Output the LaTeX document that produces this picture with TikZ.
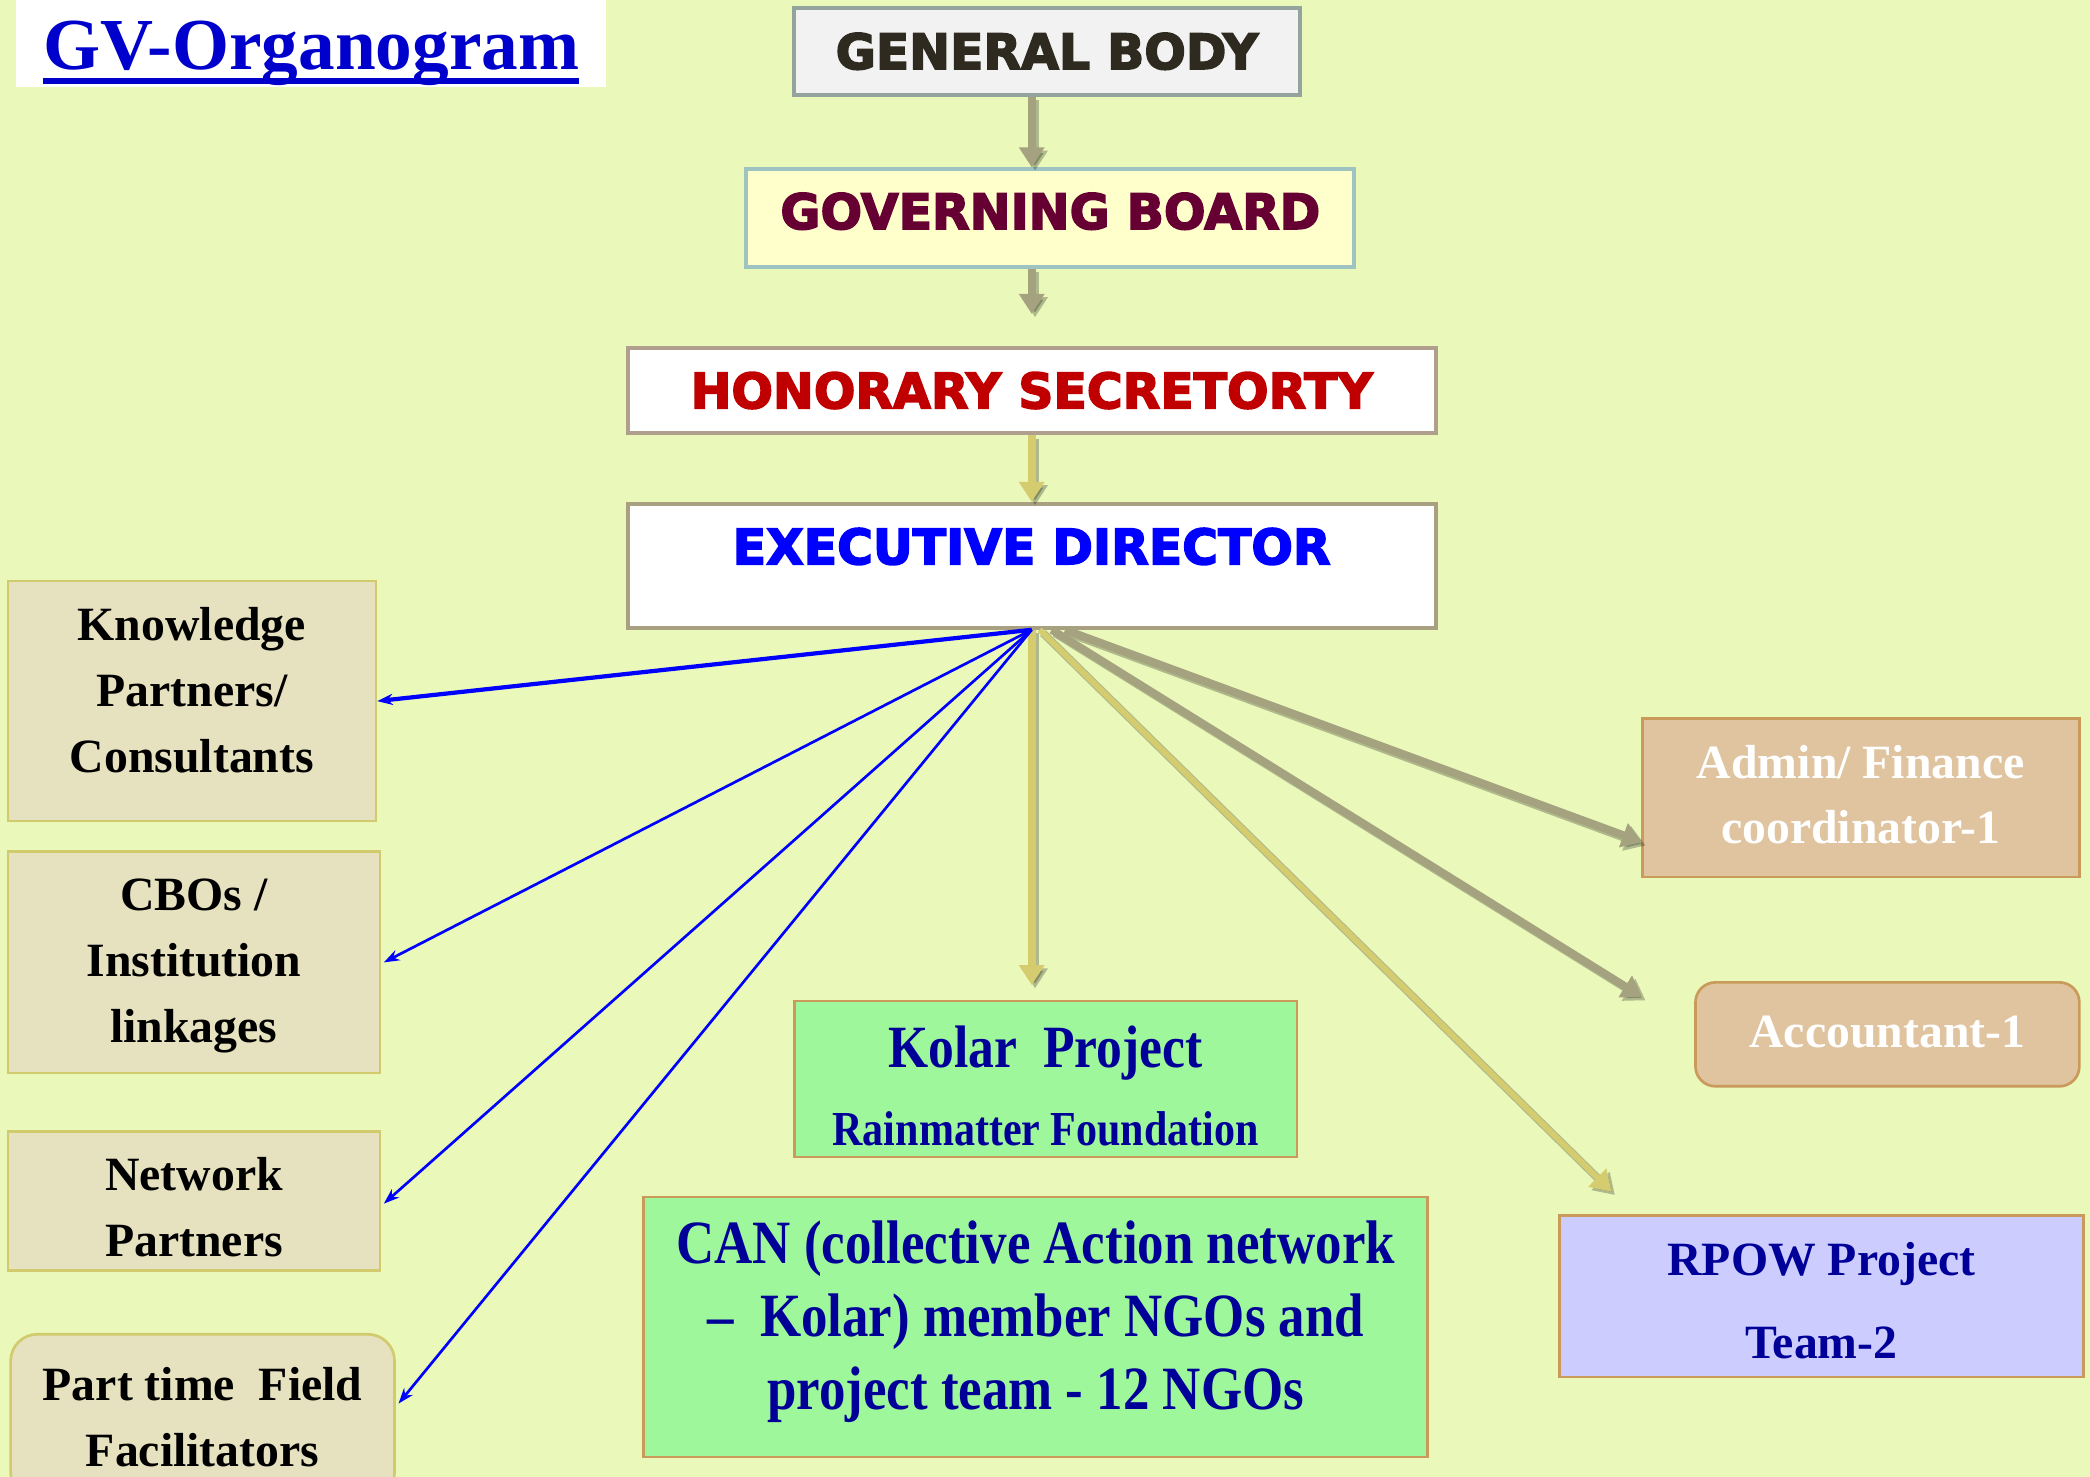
\documentclass[tikz,border=0pt]{standalone}
\usepackage{fontspec}
\setmainfont{Liberation Serif}
\newfontfamily\headfont[BoldFeatures={FakeBold=3.2}]{DejaVu Sans}
\newfontfamily\condfont[FakeStretch=0.86]{Liberation Serif}
\usetikzlibrary{arrows.meta,calc}
\definecolor{bgc}{HTML}{EAF8BA}
\definecolor{gbfill}{HTML}{F2F2F2}
\definecolor{gbline}{HTML}{94A39B}
\definecolor{gbtext}{HTML}{2E2A20}
\definecolor{govfill}{HTML}{FFFFCC}
\definecolor{govline}{HTML}{9EC3C0}
\definecolor{govtext}{HTML}{660033}
\definecolor{hsline}{HTML}{B09F8C}
\definecolor{hstext}{HTML}{C00000}
\definecolor{edline}{HTML}{A8A080}
\definecolor{leftfill}{HTML}{E6E1BE}
\definecolor{leftline}{HTML}{D2CB6E}
\definecolor{tanfill}{HTML}{DFC49F}
\definecolor{tanline}{HTML}{C99A5A}
\definecolor{greenfill}{HTML}{9EF79A}
\definecolor{rpowfill}{HTML}{CCCCFF}
\definecolor{navy}{HTML}{000099}
\definecolor{grayarrow}{HTML}{A5A27F}
\definecolor{yelarrow}{HTML}{D4CC6E}
\definecolor{titleblue}{HTML}{0000CC}
\newcommand\tul[1]{\setbox0\hbox{#1}\rlap{\rule[-6.6pt]{\wd0}{2.6pt}}\box0}
\begin{document}
\begin{tikzpicture}[x=0.6pt,y=-0.6pt,
  box/.style={draw, inner sep=0pt, align=center},
  txt/.style={inner sep=0pt, align=center},
  headbox/.style={box, line width=1.8pt, font=\headfont\bfseries\fontsize{22}{26}\selectfont},
  leftbox/.style={box, fill=leftfill, draw=leftline, line width=1.2pt},
  lefttxt/.style={txt, font=\bfseries\fontsize{21.5}{29.7}\selectfont},
  tanbox/.style={box, fill=tanfill, draw=tanline, line width=1.2pt},
  tantxt/.style={txt, text=white, font=\bfseries\fontsize{21.5}{29.4}\selectfont},
  greenbox/.style={box, fill=greenfill, draw=tanline, line width=1.2pt},
  fatarrow/.style={line width=3.6pt, -{Triangle[width=11pt,length=9pt]},
     preaction={draw=black, draw opacity=.25, fill opacity=.25, line width=3.6pt, transform canvas={shift={(1.5pt,-1.5pt)}}}},
  bluearrow/.style={draw=blue, line width=1.2pt, -{Stealth[length=7pt,width=5pt]}}
]
\clip (0,0) rectangle (1568,1108);
\fill[bgc] (0,0) rectangle (1568,1108);

% title
\node[box, draw=none, fill=white, minimum width=265.8pt, minimum height=39pt, text=titleblue,
  text height=30pt, text depth=6.6pt,
  font=\bfseries\fontsize{33}{36}\selectfont] (title) at (233.5,32.5) {\tul{GV-Organogram}};

% hierarchy
\node[headbox, fill=gbfill, draw=gbline, text=gbtext, minimum width=227.4pt, minimum height=39pt] (gb) at (785.5,38.5) {GENERAL BODY};
\node[box, line width=1.8pt, fill=govfill, draw=govline, minimum width=273.6pt, minimum height=43.8pt] (gov) at (788,163.5) {};
\node[txt, text=govtext, font=\headfont\bfseries\fontsize{22}{26}\selectfont] (govT) at (788,158.5) {GOVERNING BOARD};
\node[headbox, fill=white, draw=hsline, text=hstext, minimum width=363.6pt, minimum height=38.4pt] (hs) at (774,293) {HONORARY SECRETORTY};
\node[headbox, fill=white, draw=edline, text=blue, minimum width=363.6pt, minimum height=55.8pt, text height=16pt, text depth=17.4pt] (ed) at (774,424.5) {EXECUTIVE DIRECTOR};

% left boxes
\node[leftbox, minimum width=165.6pt, minimum height=108pt] (know) at (144,526) {};
\node[lefttxt] (knowT) at (144,518) {Knowledge\\Partners/\\Consultants};
\node[leftbox, minimum width=167.4pt, minimum height=99.6pt] (cbo) at (145.5,722) {};
\node[lefttxt] (cboT) at (145.5,725) {CBOs /\\Institution\\linkages};
\node[leftbox, minimum width=167.4pt, minimum height=62.4pt] (net) at (145.5,901) {};
\node[lefttxt] (netT) at (145.5,906) {Network\\Partners};
\node[leftbox, rounded corners=12pt, minimum width=172.8pt, minimum height=74.4pt] (pt) at (152,1063) {};
\node[lefttxt] (ptT) at (152,1063) {Part time~~Field\\Facilitators};

% centre boxes
\node[greenbox, minimum width=226.2pt, minimum height=70.2pt] (kolar) at (784.5,809.5) {};
\node[txt, text=navy, font=\condfont\bfseries\fontsize{22}{35}\selectfont] (kolarT) at (784.5,814.5)
  {{\fontsize{27}{35}\selectfont Kolar~~Project}\\Rainmatter Foundation};
\node[greenbox, minimum width=352.8pt, minimum height=117pt] (can) at (777,995.5) {};
\node[txt, text=navy, font=\condfont\bfseries\fontsize{27.7}{33}\selectfont] (canT) at (777,991.5)
  {CAN (collective Action network\\\textendash~~Kolar) member NGOs and\\project team - 12 NGOs};

% right boxes
\node[tanbox, minimum width=196.8pt, minimum height=71.4pt] (admin) at (1396,598.5) {};
\node[tantxt] (adminT) at (1396,596) {Admin/ Finance\\coordinator-1};
\node[tanbox, rounded corners=9pt, minimum width=172.8pt, minimum height=46.8pt] (acc) at (1416,776) {};
\node[tantxt] (accT) at (1416,774) {Accountant-1};
\node[box, fill=rpowfill, draw=tanline, line width=1.2pt, minimum width=235.8pt, minimum height=72.6pt] (rpow) at (1366.5,972.5) {};
\node[txt, text=navy, font=\bfseries\fontsize{21.5}{37.2}\selectfont] (rpowT) at (1366.5,976) {RPOW Project\\Team-2};

% vertical arrows
\draw[fatarrow, grayarrow] (gb.south -| hs.center) -- (gov.north -| hs.center);
\draw[fatarrow, grayarrow] (gov.south -| hs.center) -- ([yshift=14.4pt]hs.north);
\draw[fatarrow, yelarrow] (hs.south) -- (ed.north);

% fan arrows
\draw[fatarrow, yelarrow, shorten >=6.6pt] (ed.south) -- (ed.south |- kolar.north);
\draw[fatarrow, grayarrow] ([xshift=15pt]ed.south) -- ([xshift=0.6pt,yshift=-20pt]admin.west);
\draw[fatarrow, grayarrow] ([xshift=9pt]ed.south) -- ([xshift=-23.4pt,yshift=16.8pt]acc.west);
\draw[fatarrow, yelarrow, line width=2.6pt] ([xshift=3.6pt]ed.south) -- ([xshift=24pt,yshift=10.2pt]rpow.north west);

\draw[bluearrow, line width=1.9pt] (ed.south) -- (know.east);
\draw[bluearrow] (ed.south) -- ([xshift=1.2pt]cbo.east);
\draw[bluearrow] (ed.south) -- ([xshift=1.2pt,yshift=-1.2pt]net.east);
\draw[bluearrow] (ed.south) -- ([xshift=1.2pt,yshift=6pt]pt.east);
\end{tikzpicture}
\end{document}
